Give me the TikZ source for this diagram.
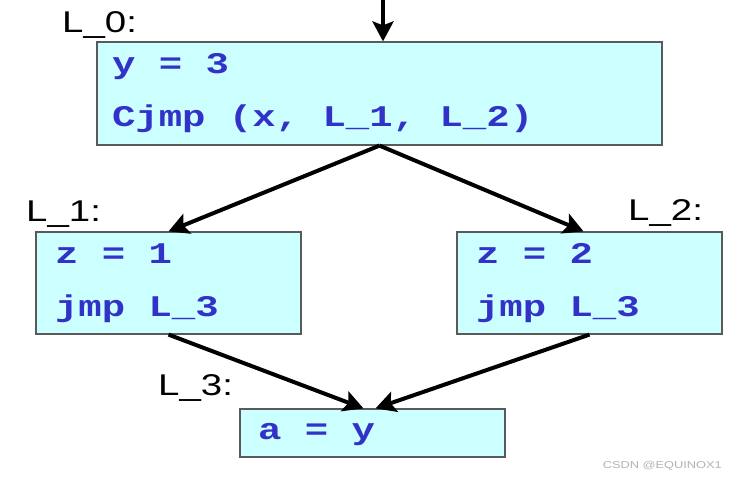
\documentclass[tikz,border=0pt]{standalone}
\usepackage{fontspec}
\usetikzlibrary{arrows.meta,positioning}
\newfontfamily\codefont[FakeStretch=1.3]{Liberation Mono}
\newfontfamily\labelfont[FakeStretch=1.28]{Liberation Sans}
% one space of the stretched monospace font
\newcommand\gap{\hspace*{0.78em}}
\definecolor{codeblue}{RGB}{50,50,200}
\definecolor{boxfill}{RGB}{204,255,255}
\definecolor{boxline}{RGB}{90,90,90}
\tikzset{
      blockbox/.style={
        draw=boxline,
        line width=1.2pt,
        fill=boxfill,
        text=codeblue,
        font=\codefont\bfseries\fontsize{30}{53}\selectfont,
        align=left,
        inner ysep=0pt
      },
      blocklabel/.style={
        font=\labelfont\fontsize{30}{36}\selectfont,
        anchor=base west,
        inner sep=0pt
      },
      flowarrow/.style={
        -{Stealth[length=20pt,width=21pt,inset=4pt]},
        line width=4pt
      }
    }

\begin{document}
\begin{tikzpicture}[x=1pt,y=-1pt]
    \useasboundingbox (0,0) rectangle (746,476);
    \node[blockbox, inner xsep=15pt, text width=535pt, minimum height=103pt] (b0) at (379.5,93.5) {y\gap=\gap3\\Cjmp\gap(x,\gap L\_1,\gap L\_2)};
    \node[blockbox, inner xsep=19pt, text width=227pt, minimum height=102pt] (b1) at (168.5,283) {z\gap=\gap1\\jmp\gap L\_3};
    \node[blockbox, inner xsep=19pt, text width=227pt, minimum height=102pt] (b2) at (589.5,283) {z\gap=\gap2\\jmp\gap L\_3};
    \node[blockbox, inner xsep=18pt, text width=229pt, minimum height=48pt, text height=19pt, text depth=6pt] (b3) at (372.5,433) {a\gap=\gap y};
    \node[blocklabel] (l0) at (62,33) {L\_0:};
    \node[blocklabel] (l1) at (26,221) {L\_1:};
    \node[blocklabel] (l2) at (628,220) {L\_2:};
    \node[blocklabel] (l3) at (158,395) {L\_3:};
    \node[font=\labelfont\fontsize{10}{12}\selectfont, text=black!30, anchor=base east, inner sep=0pt] (mark) at (722,468) {CSDN @EQUINOX1};
    \coordinate (entry) at (383,-2);
    \draw[flowarrow] (entry) -- (entry |- b0.north);
    \draw[flowarrow] (b0.south) -- (b1.north);
    \draw[flowarrow] (b0.south) -- ([xshift=-6pt]b2.north);
    \draw[flowarrow] (b1.south) -- ([xshift=-9pt]b3.north);
    \draw[flowarrow] (b2.south) -- ([xshift=3pt]b3.north);
    \end{tikzpicture}
\end{document}
